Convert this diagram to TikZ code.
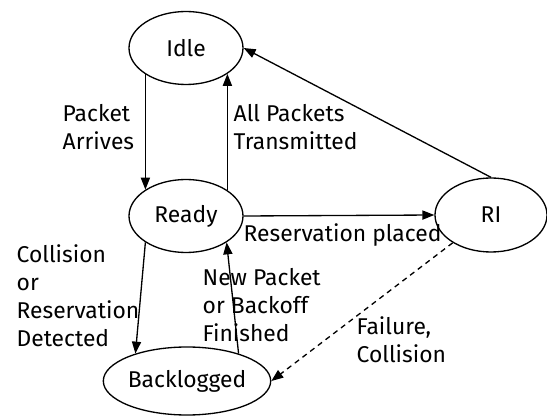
\documentclass[tikz,border=0pt]{standalone}
\usepackage{fontspec}
\setmainfont{Fira Sans}
\usetikzlibrary{shapes.geometric,arrows.meta}
\begin{document}
\begin{tikzpicture}[>={Triangle[length=6.8pt,width=5.2pt]},line width=0.75pt,
  state/.style={ellipse,draw,inner sep=0pt,minimum width=2.28cm,minimum height=1.46cm,
    font=\fontsize{13}{16}\selectfont},
  lbl/.style={anchor=west,align=left,inner sep=0pt,font=\fontsize{13}{16}\selectfont}]
\useasboundingbox (0,0) rectangle (10.94,8.34);
\node[state] (idle) at (3.72,7.38) {Idle};
\node[state] (ready) at (3.72,4.02) {Ready};
\node[state,minimum width=2.24cm,minimum height=1.48cm] (ri) at (9.82,4.04) {RI};
\node[state,minimum width=2.78cm,minimum height=1.36cm] (back) at (3.74,0.72) {Backlogged};
\draw[->] (idle.213) -- (ready.147);
\draw[->] (ready.32) -- (idle.328);
\draw[->] (ri.north) -- (idle.east);
\draw[->] (ready.east) -- (ri.west);
\draw[->] (ready.213) -- (back.152);
\draw[->] (back.28) -- (ready.327);
\draw[->,dash pattern=on 3pt off 2.5pt] (ri.216) -- (back.east);

\node[lbl] (l1) at (1.24,5.79) {Packet\\Arrives};
\node[lbl] (l2) at (4.66,5.79) {All Packets\\Transmitted};
\node[lbl] (l3) at (4.86,3.64) {Reservation placed};
\node[lbl] (l4) at (0.32,2.43) {Collision\\or\\Reservation\\Detected};
\node[lbl] (l5) at (4.04,2.24) {New Packet\\or Backoff\\Finished};
\node[lbl] (l6) at (7.12,1.55) {Failure,\\Collision};
\end{tikzpicture}
\end{document}
